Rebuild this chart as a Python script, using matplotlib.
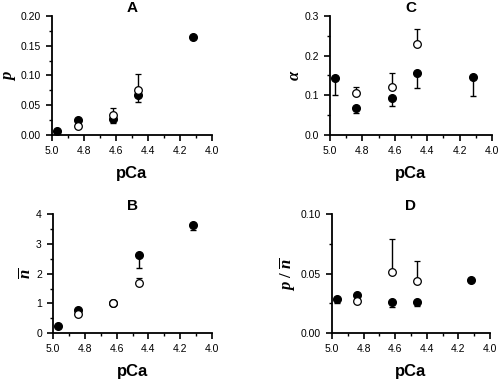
import matplotlib.pyplot as plt
from matplotlib.ticker import MultipleLocator

plt.rcParams['font.family'] = ['Liberation Sans', 'DejaVu Sans']
plt.rcParams['mathtext.fontset'] = 'custom'
plt.rcParams['mathtext.it'] = 'Liberation Serif:italic:bold'
plt.rcParams['mathtext.rm'] = 'Liberation Serif:bold'

pca = [4.97, 4.84, 4.62, 4.46, 4.12]

# panel A: p
p_fill = [0.007, 0.025, 0.027, 0.067, 0.165]
p_fill_err = [0.0, 0.0, 0.007, 0.012, 0.0]
p_open = [None, 0.015, 0.033, 0.075, None]
p_open_err = [0.0, 0.0, 0.012, 0.028, 0.0]

# panel B: mean n
n_fill = [0.25, 0.78, 1.0, 2.62, 3.65]
n_fill_err = [0.0, 0.0, 0.0, 0.44, 0.2]
n_open = [None, 0.65, 1.0, 1.67, None]
n_open_err = [0.0, 0.0, 0.0, 0.18, 0.0]

# panel C: alpha
a_fill = [0.143, 0.068, 0.093, 0.155, 0.147]
a_fill_err = [0.043, 0.013, 0.021, 0.037, 0.05]
a_open = [None, 0.105, 0.12, 0.228, None]
a_open_err = [0.0, 0.017, 0.035, 0.04, 0.0]

# panel D: p / n
d_fill = [0.029, 0.032, 0.026, 0.026, 0.045]
d_fill_err = [0.004, 0.0, 0.004, 0.003, 0.0]
d_open = [None, 0.027, 0.051, 0.044, None]
d_open_err = [0.0, 0.0, 0.028, 0.017, 0.0]


def panel(ax, title, ylabel, fill, fill_err, opn, opn_err, ymax, major, minor, fmt):
    ax.errorbar(pca, fill, yerr=[fill_err, [0] * len(fill_err)], fmt='o', color='black',
                ms=5.5, elinewidth=1, capsize=2.5, capthick=1)
    xs = [x for x, v in zip(pca, opn) if v is not None]
    ys = [v for v in opn if v is not None]
    es = [e for e, v in zip(opn_err, opn) if v is not None]
    ax.errorbar(xs, ys, yerr=[[0] * len(es), es], fmt='o', mfc='white', mec='black',
                ecolor='black', ms=5.5, mew=0.9, elinewidth=1, capsize=2.5, capthick=1)
    ax.set_xlim(5.0, 4.0)
    ax.set_ylim(0, ymax)
    ax.xaxis.set_major_locator(MultipleLocator(0.2))
    ax.xaxis.set_minor_locator(MultipleLocator(0.1))
    ax.yaxis.set_major_locator(MultipleLocator(major))
    ax.yaxis.set_minor_locator(MultipleLocator(minor))
    ax.yaxis.set_major_formatter(fmt)
    ax.xaxis.set_major_formatter('{x:.1f}')
    for s in ['top', 'right']:
        ax.spines[s].set_visible(False)
    for s in ['left', 'bottom']:
        ax.spines[s].set_linewidth(1.3)
    ax.tick_params(which='major', length=4, width=1.2, labelsize=7.5, pad=4)
    ax.tick_params(which='minor', length=2.5, width=1.0)
    ax.set_title(title, fontsize=11, fontweight='bold', pad=3)
    ax.set_xlabel('pCa', fontsize=12, fontweight='bold', labelpad=7)
    ax.set_ylabel(ylabel, fontsize=12, labelpad=2)


fig = plt.figure(figsize=(5.0, 3.79), dpi=100)
axA = fig.add_axes([0.104, 0.644, 0.32, 0.314])
axC = fig.add_axes([0.66, 0.644, 0.324, 0.314])
axB = fig.add_axes([0.106, 0.121, 0.318, 0.314])
axD = fig.add_axes([0.664, 0.121, 0.316, 0.314])

panel(axA, 'A', r'$p$', p_fill, p_fill_err, p_open, p_open_err, 0.20, 0.05, 0.025, '{x:.2f}')
panel(axC, 'C', r'$\alpha$', a_fill, a_fill_err, a_open, a_open_err, 0.3, 0.1, 0.05, '{x:.1f}')
panel(axB, 'B', r'$\overline{n}$', n_fill, n_fill_err, n_open, n_open_err, 4, 1, 0.5, '{x:.0f}')
panel(axD, 'D', r'$p\ /\ \overline{n}$', d_fill, d_fill_err, d_open, d_open_err, 0.10, 0.05, 0.025, '{x:.2f}')

fig.savefig('out.png', dpi=100)
